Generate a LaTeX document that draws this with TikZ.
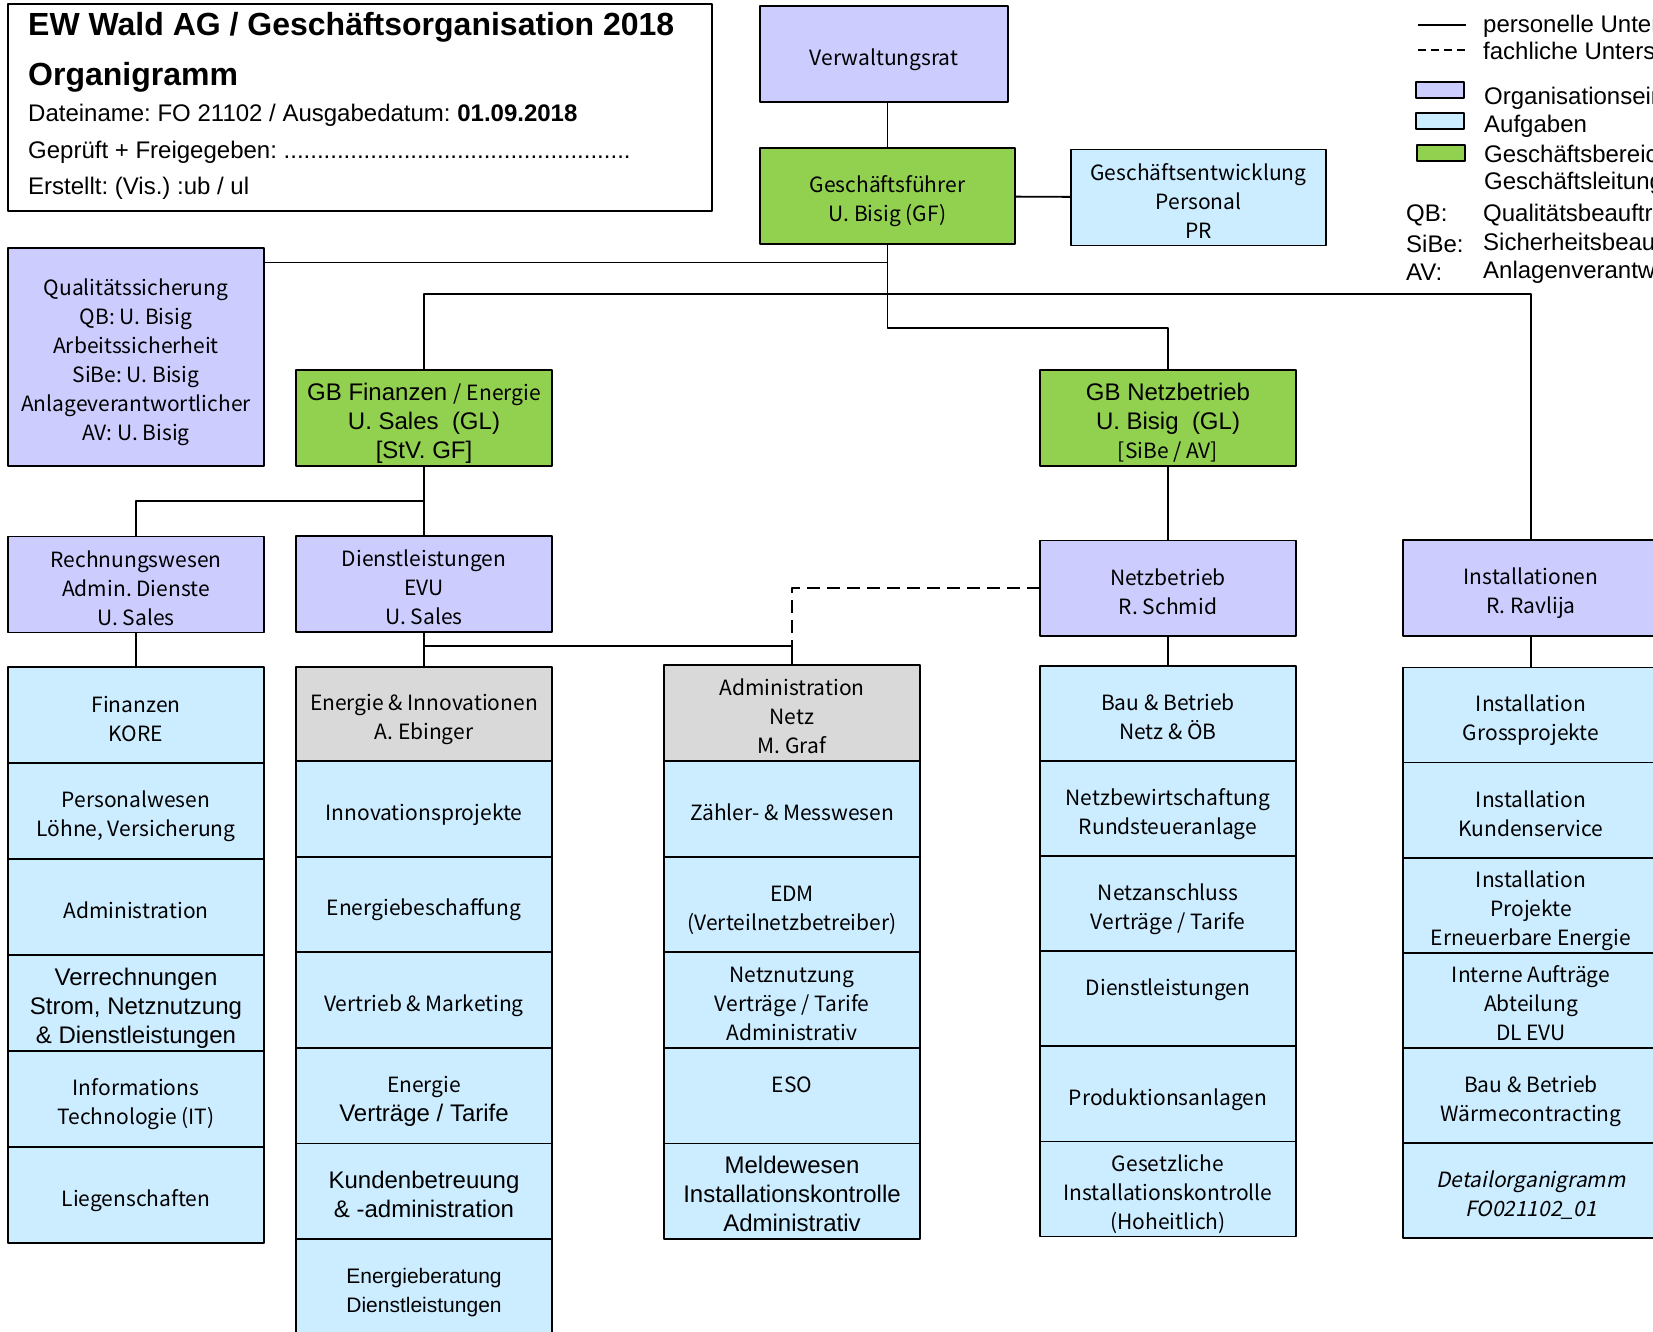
\documentclass[tikz,border=0pt]{standalone}
\usepackage{fontspec}
\setmainfont{Liberation Sans}
\newfontfamily\gothic{Noto Sans CJK JP}
\newfontfamily\gothicsl{Noto Sans CJK JP}[FakeSlant=0.2]
\usetikzlibrary{positioning}
\frenchspacing
\definecolor{orgviolet}{HTML}{CCCCFF}
\definecolor{taskblue}{HTML}{CCECFF}
\definecolor{gbgreen}{HTML}{92D050}
\definecolor{leadgray}{HTML}{D9D9D9}
\newcommand\gth{\gothic\fontsize{21}{29}\selectfont}
\newcommand\arl{\normalfont\fontsize{24}{29}\selectfont}
\newcommand\ars{\normalfont\fontsize{21}{29}\selectfont}
% feste Zeilenhoehe oben und unten im Kasten
\newcommand\zl[1]{\rule{0pt}{28pt}#1\rule[-5pt]{0pt}{5pt}}
\begin{document}
\begin{tikzpicture}[x=1pt,y=-1pt,line join=round,
  box/.style={draw,line width=1.8,outer sep=0,inner sep=0,align=center,font=\gth,minimum width=256,minimum height=96},
  org/.style={box,fill=orgviolet},
  task/.style={box,fill=taskblue},
  gb/.style={box,fill=gbgreen},
  lead/.style={box,fill=leadgray},
  conn/.style={line width=1.8},
  fach/.style={conn,dash pattern=on 13pt off 7pt},
  legbox/.style={draw,line width=1.8,minimum width=48,minimum height=16,inner sep=0},
  legtxt/.style={anchor=west,inner sep=0,font=\arl},
  kopftxt/.style={anchor=base west,inner sep=0,font=\arl}]
\useasboundingbox (0,0) rectangle (1653,1331);

% Kopf
\node[draw,line width=1.8,anchor=north west,minimum width=704,minimum height=207,inner sep=0] (kopf) at (7,3) {};
\node[kopftxt,font=\arl\fontsize{32}{36}\selectfont\bfseries] (titel) at (28,35) {EW Wald AG / Geschäftsorganisation 2018};
\node[kopftxt,font=\arl\fontsize{32}{36}\selectfont\bfseries] (organi) at (28,85) {Organigramm};
\node[kopftxt] (datei) at (28,121.5) {Dateiname: FO 21102 / Ausgabedatum: \textbf{01.09.2018}};
\node[kopftxt] (gepr) at (28,158) {Geprüft + Freigegeben: ....................................................};
\node[kopftxt] (erst) at (28,194) {Erstellt: (Vis.) :ub / ul};

% Legende
\draw[conn] (1418,25) -- (1466,25);
\node[legtxt] (lgpers) at (1483,26) {personelle Unterstellung};
\draw[conn,dash pattern=on 8pt off 5pt] (1418,50) -- (1466,50);
\node[legtxt] (lgfach) at (1483,53) {fachliche Unterstellung};
\node[legbox,fill=orgviolet] (lgorg) at (1440,90) {};
\node[legtxt] (lgorgt) at (1484,98) {Organisationseinheit};
\node[legbox,fill=taskblue] (lgauf) at (1440,121) {};
\node[legtxt] (lgauft) at (1484,126) {Aufgaben};
\node[legbox,fill=gbgreen] (lggb) at (1441,153) {};
\node[legtxt] (lggbt) at (1484,154) {Geschäftsbereich};
\node[legtxt] (lggl) at (1484,183) {Geschäftsleitung};
\node[legtxt] (lgqb) at (1406,215) {QB:};
\node[legtxt] (lgqbt) at (1483,215) {Qualitätsbeauftragter};
\node[legtxt] (lgsibe) at (1406,244) {SiBe:};
\node[legtxt] (lgsibet) at (1483,244) {Sicherheitsbeauftragter};
\node[legtxt] (lgav) at (1406,272) {AV:};
\node[legtxt] (lgavt) at (1483,272) {Anlagenverantwortlicher};

% Leitung
\node[org,minimum width=248] (vr) at (884,54) {\zl{Verwaltungsrat}};
\node[gb,minimum width=255] (gf) at (887.5,196) {\zl{Geschäftsführer\\U. Bisig (GF)}};
\node[task,minimum width=255] (ge) at (1198.5,197.5) {\zl{Geschäftsentwicklung\\Personal\\PR}};
\node[org,minimum height=218] (qs) at (136,357) {\zl{Qualitätssicherung\\QB: U. Bisig\\Arbeitssicherheit\\SiBe: U. Bisig\\Anlageverantwortlicher\\AV: U. Bisig}};
\node[gb] (gbf) at (424,418) {\zl{\arl GB Finanzen {\gth / Energie}\\\arl U. Sales\ \ (GL)\\\arl [StV. GF]}};
\node[gb] (gbn) at (1168,418) {\zl{\arl GB Netzbetrieb\\\arl U. Bisig\ \ (GL)\\{}[SiBe / AV]}};

% Organisationseinheiten
\node[org] (rw) at (136,584.5) {\zl{Rechnungswesen\\Admin. Dienste\\U. Sales}};
\node[org] (dl) at (424,584) {\zl{Dienstleistungen\\EVU\\U. Sales}};
\node[org,minimum height=95.5] (nb) at (1168,588.3) {\zl{Netzbetrieb\\R. Schmid}};
\node[org] (ins) at (1531,588) {\zl{Installationen\\R. Ravlija}};

% Aufgaben
\foreach \txt [count=\i from 0] in {{Finanzen\\KORE},{Personalwesen\\Löhne, Versicherung},{Administration},
  {\arl Verrechnungen\\\arl Strom, Netznutzung\\\arl\& Dienstleistungen},{Informations\\Technologie (IT)},{Liegenschaften}}
  \node[task] (rw\i) at (136,{715+96*\i}) {\zl{\txt}};

\node[lead,minimum height=94] (dl0) at (424,714) {\zl{Energie \& Innovationen\\A. Ebinger}};
\foreach \txt [count=\i] in {{Innovationsprojekte},{Energiebeschaffung},{Vertrieb \& Marketing},
  {Energie\\\arl Verträge / Tarife},{\arl Kundenbetreuung\\\arl\& -administration},
  {\ars Energieberatung\\\ars Dienstleistungen}}
  \node[task,minimum height=95.6] (dl\i) at (424,{713.2+95.6*\i}) {\zl{\txt}};

\node[lead] (adm0) at (792,713) {\zl{Administration\\Netz\\M. Graf}};
\foreach \txt [count=\i] in {{Zähler- \& Messwesen},{EDM\\(Verteilnetzbetreiber)},{Netznutzung\\Verträge / Tarife\\Administrativ},
  {ESO\\~},{\arl Meldewesen\\\arl Installationskontrolle\\\arl Administrativ}}
  \node[task,minimum height=95.6] (adm\i) at (792,{713.2+95.6*\i}) {\zl{\txt}};

\foreach \txt [count=\i from 0] in {{Bau \& Betrieb\\Netz \& ÖB},{Netzbewirtschaftung\\Rundsteueranlage},{Netzanschluss\\Verträge / Tarife},
  {Dienstleistungen\\~},{Produktionsanlagen},{Gesetzliche\\Installationskontrolle\\(Hoheitlich)}}
  \node[task,minimum height=95.1] (nb\i) at (1168,{713.5+95.1*\i}) {\zl{\txt}};

\foreach \txt [count=\i from 0] in {{Installation\\Grossprojekte},{Installation\\Kundenservice},{Installation\\Projekte\\Erneuerbare Energie},
  {Interne Aufträge\\Abteilung\\DL EVU},{Bau \& Betrieb\\Wärmecontracting},{\gothicsl Detailorganigramm\\\gothicsl FO021102\_01}}
  \node[task,minimum height=95.1] (ins\i) at (1531,{715+95.1*\i}) {\zl{\txt}};

% Verbindungen
\draw[conn] (gf.north) -- (gf.north |- vr.south);
\draw[conn] (gf) -- (ge);
\draw[conn] (qs.north east) ++(0,14.5) coordinate (qsa) -- (qsa -| gf);
\draw[conn] (gbf.north) -- ++(0,-76) -| (ins.north);
\draw[conn] (gf.south) -- ++(0,84) -| (gbn.north);
\draw[conn] (gbf.south) -- (dl.north);
\draw[conn] (gbf.south) -- ++(0,35) -| (rw.north);
\draw[conn] (gbn) -- (nb);
\draw[conn] (rw) -- (rw0);
\draw[conn] (dl) -- (dl0);
\draw[conn] (dl.south) -- ++(0,14) coordinate (dla) -| (adm0.north);
\draw[fach] (nb.west) -| (adm0.north |- dla);
\draw[conn] (nb) -- (nb0);
\draw[conn] (ins) -- (ins0);
\end{tikzpicture}
\end{document}
